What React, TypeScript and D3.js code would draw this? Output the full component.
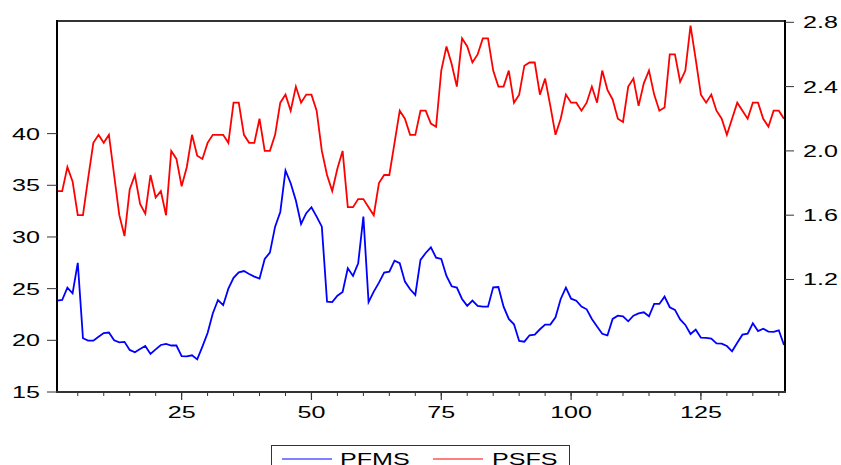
import React from "react";
import * as d3 from "d3";

const PFMS: number[] = [
  23.84, 23.9, 25.1, 24.55, 27.5, 20.2, 19.97, 19.97, 20.35, 20.7,
  20.75, 20.0, 19.8, 19.85, 19.07, 18.84, 19.16, 19.45, 18.68, 19.13,
  19.55, 19.65, 19.5, 19.5, 18.48, 18.45, 18.55, 18.16, 19.39, 20.7,
  22.6, 23.9, 23.4, 25.0, 26.05, 26.57, 26.7, 26.42, 26.16, 25.97,
  27.87, 28.49, 31.0, 32.42, 36.43, 35.2, 33.52, 31.26, 32.3, 32.88,
  31.97, 31.0, 23.74, 23.7, 24.32, 24.68, 26.97, 26.23, 27.46, 31.97,
  23.7, 24.71, 25.58, 26.55, 26.64, 27.71, 27.46, 25.68, 24.94, 24.39,
  27.78, 28.45, 29.0, 28.0, 27.87, 26.23, 25.23, 25.1, 24.0, 23.33,
  23.84, 23.33, 23.26, 23.26, 25.13, 25.16, 23.26, 22.07, 21.55, 19.94,
  19.87, 20.49, 20.55, 21.07, 21.52, 21.52, 22.23, 24.0, 25.1, 24.03,
  23.84, 23.26, 23.0, 22.07, 21.33, 20.63, 20.47, 22.07, 22.39, 22.33,
  21.84, 22.39, 22.61, 22.71, 22.33, 23.52, 23.52, 24.23, 23.2, 22.94,
  22.03, 21.49, 20.61, 21.03, 20.26, 20.23, 20.16, 19.71, 19.68, 19.45,
  18.94, 19.77, 20.55, 20.65, 21.65, 20.9, 21.13, 20.84, 20.81, 20.97,
  19.55,
];

const PSFS: number[] = [
  1.75, 1.75, 1.9, 1.81, 1.6, 1.6, 1.83, 2.05, 2.1, 2.05,
  2.1, 1.85, 1.6, 1.47, 1.76, 1.85, 1.67, 1.61, 1.85, 1.71,
  1.75, 1.6, 2.0, 1.95, 1.78, 1.9, 2.1, 1.97, 1.95, 2.05,
  2.1, 2.1, 2.1, 2.05, 2.3, 2.3, 2.1, 2.05, 2.05, 2.2,
  2.0, 2.0, 2.1, 2.3, 2.35, 2.25, 2.4, 2.3, 2.35, 2.35,
  2.25, 2.0, 1.85, 1.75, 1.89, 2.0, 1.65, 1.65, 1.7, 1.7,
  1.65, 1.6, 1.8, 1.85, 1.85, 2.05, 2.25, 2.2, 2.1, 2.1,
  2.25, 2.25, 2.17, 2.15, 2.5, 2.65, 2.54, 2.4, 2.7, 2.65,
  2.55, 2.6, 2.7, 2.7, 2.5, 2.4, 2.4, 2.5, 2.3, 2.35,
  2.53, 2.55, 2.55, 2.35, 2.45, 2.28, 2.1, 2.2, 2.35, 2.3,
  2.3, 2.25, 2.3, 2.4, 2.3, 2.5, 2.38, 2.32, 2.2, 2.18,
  2.4, 2.45, 2.28, 2.42, 2.5, 2.35, 2.25, 2.27, 2.6, 2.6,
  2.43, 2.5, 2.78, 2.57, 2.35, 2.3, 2.35, 2.25, 2.2, 2.1,
  2.2, 2.3, 2.25, 2.2, 2.3, 2.3, 2.2, 2.15, 2.25, 2.25,
  2.2,
];

const LEFT_TICKS = [15, 20, 25, 30, 35, 40];
const RIGHT_TICKS = [1.2, 1.6, 2.0, 2.4, 2.8];
const RIGHT_LABELS = ["1.2", "1.6", "2.0", "2.4", "2.8"];
const X_MAJOR = [25, 50, 75, 100, 125];
const X_MINOR = d3.range(5, 141, 5);
const SERIES_NAMES = ["PFMS", "PSFS"];

const W = 841;
const H = 465;
const L = 57;
const R = 784;
const T = 22;
const B = 392;
const SX = 1.57;
const FONT = "'Liberation Sans', Arial, sans-serif";

export default function App() {
  const x = d3.scaleLinear().domain([1, PFMS.length]).range([L, R]);
  const yL = d3.scaleLinear().domain([15, 50.8]).range([B, T]);
  const yR = d3.scaleLinear().domain([0.5, 2.8]).range([B, 22.3]);

  const lineL = d3
    .line<number>()
    .x((_, i) => x(i + 1))
    .y((d) => yL(d));
  const lineR = d3
    .line<number>()
    .x((_, i) => x(i + 1))
    .y((d) => yR(d));

  const txt = (s: string, tx: number, ty: number, anchor: string) => (
    <text
      key={s + tx + ty}
      transform={`translate(${tx},${ty}) scale(${SX},1)`}
      textAnchor={anchor}
      fontFamily={FONT}
      fontSize={16}
      fill="#000"
    >
      {s}
    </text>
  );

  return (
    <div style={{ position: "fixed", left: 0, top: 0 }}>
      <svg width={W} height={H} style={{ display: "block", background: "#fff" }}>
        <rect x={0} y={0} width={W} height={H} fill="#fff" />
        {/* frame */}
        <line x1={L} x2={R} y1={21} y2={21} stroke="#333" strokeWidth={2} />
        {/* series */}
        <path d={lineR(PSFS) || ""} fill="none" stroke="#ff0000" strokeWidth={1.8} strokeLinejoin="miter" />
        <path d={lineL(PFMS) || ""} fill="none" stroke="#0000ff" strokeWidth={1.8} strokeLinejoin="miter" />
        {/* axes */}
        <line x1={L} x2={L} y1={20} y2={B + 1} stroke="#000" strokeWidth={2} />
        <line x1={R + 1} x2={R + 1} y1={20} y2={B + 1} stroke="#000" strokeWidth={2} />
        <line x1={L - 1} x2={R + 2} y1={B} y2={B} stroke="#333" strokeWidth={2} />
        {/* left ticks */}
        {LEFT_TICKS.map((v) => (
          <g key={"l" + v}>
            <line x1={L - 10} x2={L} y1={yL(v)} y2={yL(v)} stroke="#333" strokeWidth={1} />
            {txt(String(v), 40, yL(v) + 6, "end")}
          </g>
        ))}
        {/* right ticks */}
        {RIGHT_TICKS.map((v, i) => (
          <g key={"r" + v}>
            <line x1={R + 1} x2={R + 10} y1={yR(v)} y2={yR(v)} stroke="#333" strokeWidth={1} />
            {txt(RIGHT_LABELS[i], 803, yR(v) + 6, "start")}
          </g>
        ))}
        {/* bottom ticks */}
        {X_MINOR.map((v) => (
          <line key={"m" + v} x1={x(v)} x2={x(v)} y1={B} y2={B + 4} stroke="#333" strokeWidth={1} />
        ))}
        {X_MAJOR.map((v) => (
          <g key={"M" + v}>
            <line x1={x(v)} x2={x(v)} y1={B} y2={B + 8} stroke="#333" strokeWidth={1.2} />
            {txt(String(v), x(v), 418, "middle")}
          </g>
        ))}
        {/* legend */}
        <rect x={271.5} y={445.5} width={298} height={30} fill="#fff" stroke="#333" strokeWidth={1} />
        <line x1={282} x2={332} y1={459} y2={459} stroke="#0000ff" strokeWidth={1.2} />
        {txt(SERIES_NAMES[0], 340, 465, "start")}
        <line x1={433} x2={483} y1={459} y2={459} stroke="#ff0000" strokeWidth={1.2} />
        {txt(SERIES_NAMES[1], 492, 465, "start")}
      </svg>
    </div>
  );
}
